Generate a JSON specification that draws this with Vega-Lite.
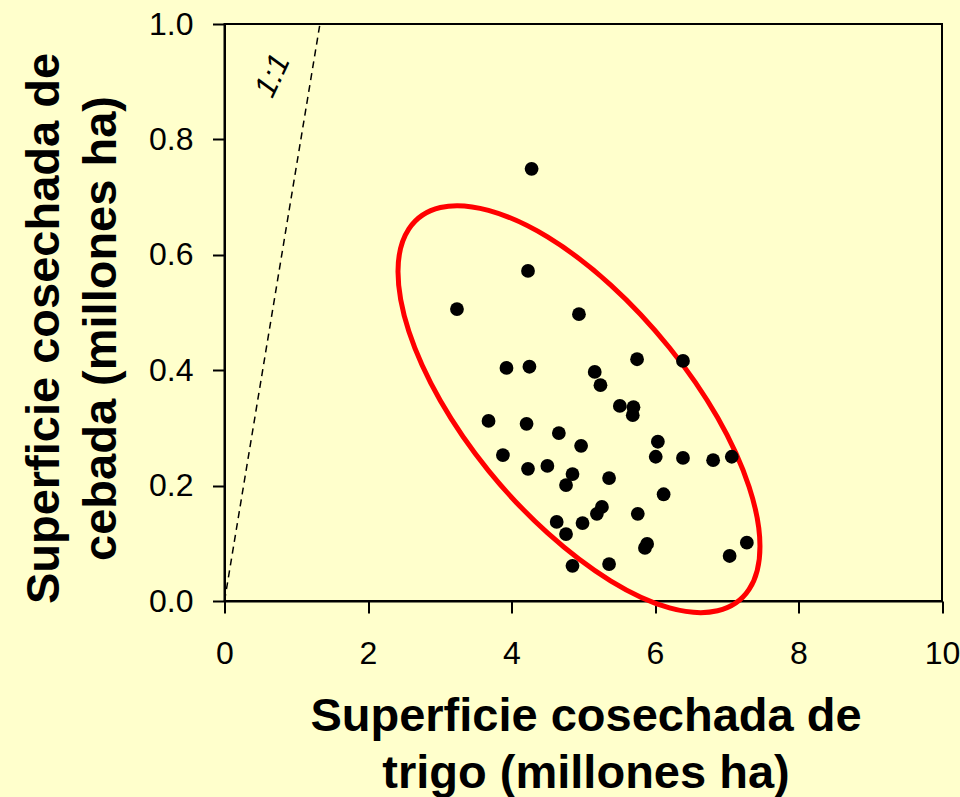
{
  "$schema": "https://vega.github.io/schema/vega-lite/v6.json",
  "autosize": {"type": "none"},
  "padding": {"left": 224.5, "top": 24, "right": 18, "bottom": 196},
  "width": 717.5,
  "height": 577,
  "background": "#FFFFCC",
  "config": {
    "view": {"stroke": "black", "strokeWidth": 2, "fill": "#FFFFCC"},
    "axis": {
      "domainColor": "black",
      "domainWidth": 2,
      "tickColor": "black",
      "tickWidth": 2,
      "tickSize": 12,
      "grid": false,
      "labelFont": "Liberation Sans",
      "labelFontSize": 32,
      "labelColor": "black",
      "labelFlush": false,
      "labelOverlap": false,
      "titleFont": "Liberation Sans",
      "titleFontSize": 47,
      "titleFontWeight": "bold",
      "titleColor": "black",
      "titleLineHeight": 57
    }
  },
  "datasets": {
    "puntos": [
      {"x": 4.28, "y": 0.749}, {"x": 4.23, "y": 0.572}, {"x": 3.24, "y": 0.506},
      {"x": 4.94, "y": 0.497}, {"x": 5.75, "y": 0.419}, {"x": 6.39, "y": 0.416},
      {"x": 3.93, "y": 0.404}, {"x": 4.25, "y": 0.406}, {"x": 5.16, "y": 0.397},
      {"x": 5.24, "y": 0.374}, {"x": 5.51, "y": 0.338}, {"x": 5.70, "y": 0.336},
      {"x": 5.69, "y": 0.322}, {"x": 3.68, "y": 0.312}, {"x": 4.21, "y": 0.307},
      {"x": 4.66, "y": 0.291}, {"x": 4.97, "y": 0.269}, {"x": 6.04, "y": 0.276},
      {"x": 6.01, "y": 0.250}, {"x": 6.39, "y": 0.248}, {"x": 6.81, "y": 0.244},
      {"x": 7.07, "y": 0.250}, {"x": 3.88, "y": 0.253}, {"x": 4.23, "y": 0.229},
      {"x": 4.50, "y": 0.234}, {"x": 4.85, "y": 0.220}, {"x": 4.76, "y": 0.201},
      {"x": 5.36, "y": 0.213}, {"x": 6.12, "y": 0.185}, {"x": 5.26, "y": 0.163},
      {"x": 5.19, "y": 0.151}, {"x": 5.76, "y": 0.151}, {"x": 4.63, "y": 0.137},
      {"x": 4.99, "y": 0.135}, {"x": 4.76, "y": 0.116}, {"x": 5.89, "y": 0.099},
      {"x": 5.86, "y": 0.092}, {"x": 7.28, "y": 0.101}, {"x": 7.04, "y": 0.078},
      {"x": 4.85, "y": 0.061}, {"x": 5.36, "y": 0.064}
    ],
    "elipse": [
      {"i": 1, "x": 7.463, "y": 0.095}, {"i": 2, "x": 7.311, "y": 0.020},
      {"i": 3, "x": 6.872, "y": -0.017}, {"i": 4, "x": 6.202, "y": -0.012},
      {"i": 5, "x": 5.380, "y": 0.035}, {"i": 6, "x": 4.502, "y": 0.118},
      {"i": 7, "x": 3.679, "y": 0.226}, {"i": 8, "x": 3.009, "y": 0.347},
      {"i": 9, "x": 2.570, "y": 0.467}, {"i": 10, "x": 2.418, "y": 0.571},
      {"i": 11, "x": 2.570, "y": 0.645}, {"i": 12, "x": 3.009, "y": 0.682},
      {"i": 13, "x": 3.679, "y": 0.677}, {"i": 14, "x": 4.502, "y": 0.631},
      {"i": 15, "x": 5.380, "y": 0.548}, {"i": 16, "x": 6.202, "y": 0.439},
      {"i": 17, "x": 6.872, "y": 0.318}, {"i": 18, "x": 7.311, "y": 0.198}
    ],
    "linea": [
      {"x": 0, "y": 0}, {"x": 1.33, "y": 1.0}
    ],
    "etiqueta": [
      {"x": 0.68, "y": 0.91, "label": "1:1"}
    ]
  },
  "encoding": {
    "x": {
      "field": "x", "type": "quantitative",
      "scale": {"domain": [0, 10], "nice": false, "zero": false},
      "axis": {
        "values": [0, 2, 4, 6, 8, 10],
        "format": "d",
        "labelBaseline": "alphabetic",
        "labelPadding": 50,
        "title": ["Superficie cosechada de", "trigo (millones ha)"],
        "titleX": 361,
        "titleY": 129,
        "titleAlign": "center",
        "titleBaseline": "alphabetic"
      }
    },
    "y": {
      "field": "y", "type": "quantitative",
      "scale": {"domain": [0, 1], "nice": false, "zero": false},
      "axis": {
        "values": [0, 0.2, 0.4, 0.6, 0.8, 1.0],
        "format": ".1f",
        "labelPadding": 19.5,
        "title": ["Superficie cosechada de", "cebada (millones ha)"],
        "titleAngle": 270,
        "titleX": -166,
        "titleY": 304,
        "titleAlign": "center",
        "titleBaseline": "alphabetic"
      }
    }
  },
  "layer": [
    {
      "data": {"name": "linea"},
      "mark": {"type": "line", "color": "black", "strokeWidth": 1.5, "strokeDash": [7, 5]}
    },
    {
      "data": {"name": "etiqueta"},
      "mark": {"type": "text", "font": "Liberation Sans", "fontSize": 31, "fontStyle": "italic", "angle": 295, "align": "center", "baseline": "middle", "color": "black"},
      "encoding": {"text": {"field": "label", "type": "nominal"}}
    },
    {
      "data": {"name": "elipse"},
      "mark": {"type": "line", "color": "#FF0000", "strokeWidth": 5, "interpolate": "cardinal-closed"},
      "encoding": {"order": {"field": "i", "type": "quantitative"}}
    },
    {
      "data": {"name": "puntos"},
      "mark": {"type": "point", "shape": "circle", "filled": true, "color": "black", "opacity": 1, "size": 190}
    }
  ]
}
